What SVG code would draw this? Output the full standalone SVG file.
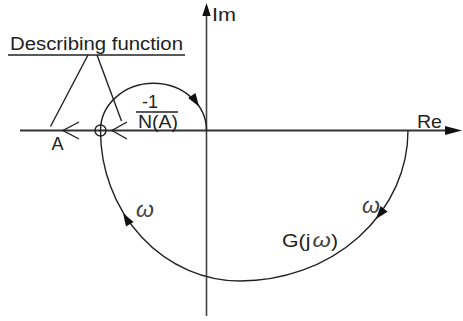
<svg xmlns="http://www.w3.org/2000/svg" width="463" height="321" viewBox="0 0 463 321">
<style>
text{font-family:"Liberation Sans",Arial,sans-serif;fill:#222}
.ln{fill:none;stroke:#222;stroke-width:1.4}
.ax{fill:none;stroke:#444;stroke-width:1.6}
.ah{fill:#111;stroke:none}
.om{font-style:italic;font-size:23px;fill:#444}
</style>
<rect width="463" height="321" fill="#fff"/>
<g id="axes">
<line class="ax" x1="206.5" y1="14" x2="206.5" y2="316"/>
<polygon class="ah" points="206.5,3 202.3,16 210.7,16"/>
<line class="ax" x1="20" y1="130.5" x2="448" y2="130.5" style="stroke:#333;stroke-width:2"/>
<polygon class="ah" points="462,130.5 445,126 445,135"/>
<text x="212" y="20.5" font-size="19" textLength="24" lengthAdjust="spacingAndGlyphs">Im</text>
<text x="417" y="127.5" font-size="19" textLength="25" lengthAdjust="spacingAndGlyphs">Re</text>
</g>
<g id="nyquist">
<path class="ln" d="M408,130.5 A168 150.5 0 0 1 240,281 A140 150.5 0 0 1 100.5,130.5 A52.75 47 0 0 1 206.5,130.5"/>
<polygon class="ah" points="375.9,219 387.6,211.7 380.6,206.1"/>
<polygon class="ah" points="123,213.1 133.6,221.9 126,226.6"/>
<polygon class="ah" points="199,106.4 195.5,93.1 188.1,98.1"/>
<text class="om" x="136" y="217">ω</text>
<text class="om" x="362" y="213">ω</text>
<text x="282" y="247" font-size="19" textLength="56" lengthAdjust="spacingAndGlyphs">G(j<tspan dx="2" font-style="italic" fill="#444" font-size="21">ω</tspan>)</text>
</g>
<g id="describing-function">
<text x="10" y="50" font-size="18" textLength="173" lengthAdjust="spacingAndGlyphs">Describing function</text>
<line class="ln" x1="8" y1="55" x2="185" y2="55"/>
<line class="ln" x1="88" y1="55" x2="50.5" y2="126.5"/>
<line class="ln" x1="97" y1="55" x2="121.5" y2="121"/>
<polyline class="ln" points="79,122 63,130.5 79,139"/>
<polyline class="ln" points="127,122 112,130.5 127,139"/>
<circle class="ln" cx="100.5" cy="130.5" r="5.5"/>
<text x="51.5" y="150" font-size="18">A</text>
</g>
<g id="critical-locus">
<text x="142" y="108" font-size="18">-1</text>
<line class="ln" x1="136" y1="112" x2="178" y2="112"/>
<text x="138" y="128" font-size="18" textLength="40" lengthAdjust="spacingAndGlyphs">N(A)</text>
</g>
</svg>
